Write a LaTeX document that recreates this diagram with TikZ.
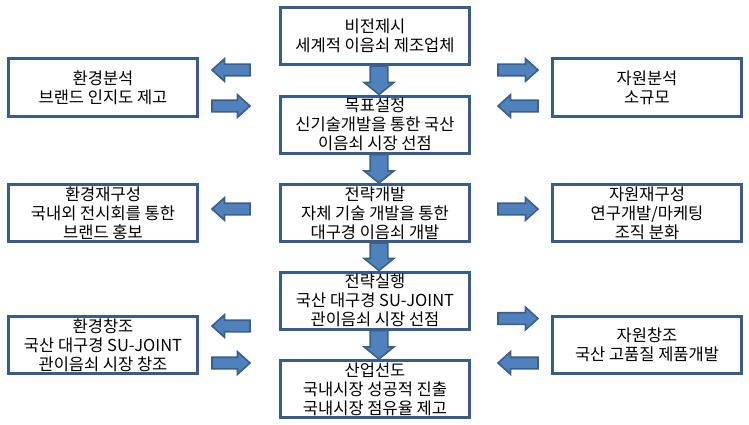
\documentclass[tikz,border=0pt]{standalone}
\usepackage{fontspec}
\usepackage{tikz}
\usetikzlibrary{calc}
\usepackage{xcolor}
\newfontfamily\krfont{Noto Sans CJK KR}
\definecolor{boxline}{HTML}{385D8A}
\definecolor{arrowfill}{HTML}{4F81BD}
\definecolor{arrowline}{HTML}{3A5F8E}

% block arrow: from, to, half shaft, half head, head length
\newcommand{\blockarrow}[5]{%
  \coordinate (ba-s) at (#1);
  \coordinate (ba-e) at (#2);
  \coordinate (ba-h) at ($(ba-e)!#5!(ba-s)$);
  \filldraw[fat] ($(ba-s)!#3!90:(ba-e)$) -- ($(ba-h)!#3!90:(ba-e)$)
    -- ($(ba-h)!#4!90:(ba-e)$) -- (ba-e) -- ($(ba-h)!#4!-90:(ba-e)$)
    -- ($(ba-h)!#3!-90:(ba-e)$) -- ($(ba-s)!#3!-90:(ba-e)$) -- cycle;}

\begin{document}
\begin{tikzpicture}[x=1pt,y=1pt,
            stage/.style = {draw=boxline,
            line width=3pt,
            fill=white,
            minimum width=189pt,
            minimum height=57pt,
            inner sep=0pt,
            align=center,
            font=\krfont\fontsize{16.5}{19}\selectfont},
            fat/.style = {fill=arrowfill,
            draw=arrowline,
            line width=1.6pt,
            line join=miter}]
        \useasboundingbox (0,0) rectangle (749,424);

        % Center column
        \node[stage] (vision) at (375,388) {비전제시\\세계적 이음쇠 제조업체};
        \node[stage] (goal) at (375,299.5) {목표설정\\신기술개발을 통한 국산\\이음쇠 시장 선점};
        \node[stage] (plan) at (375,211) {전략개발\\자체 기술 개발을 통한\\대구경 이음쇠 개발};
        \node[stage] (exec) at (375,123.5) {전략실행\\국산 대구경 SU-JOINT\\관이음쇠 시장 선점};
        \node[stage] (lead) at (375,35) {산업선도\\국내시장 성공적 진출\\국내시장 점유율 제고};

        % Environment
        \node[stage] (env1) at (103,336.5) {환경분석\\브랜드 인지도 제고};
        \node[stage] (env2) at (103,211) {환경재구성\\국내외 전시회를 통한\\브랜드 홍보};
        \node[stage] (env3) at (103,79) {환경창조\\국산 대구경 SU-JOINT\\관이음쇠 시장 창조};

        % Resources
        \node[stage] (res1) at (647,336.5) {자원분석\\소규모};
        \node[stage] (res2) at (647,211) {자원재구성\\연구개발/마케팅\\조직 분화};
        \node[stage] (res3) at (647,79) {자원창조\\국산 고품질 제품개발};

        % Down arrows
        \blockarrow{[xshift=4pt]vision.south}{[xshift=4pt]goal.north}{8.8pt}{14.8pt}{12pt}
        \blockarrow{[xshift=4pt]goal.south}{[xshift=4pt]plan.north}{8.8pt}{14.8pt}{12pt}
        \blockarrow{[xshift=4pt]plan.south}{[xshift=4pt]exec.north}{8.8pt}{14.8pt}{12pt}
        \blockarrow{[xshift=4pt]exec.south}{[xshift=4pt]lead.north}{8.8pt}{14.8pt}{12pt}

        % Left arrows
        \blockarrow{$(env1.east)+(51,17.5)$}{$(env1.east)+(13,17.5)$}{5.8pt}{11.3pt}{12.5pt}
        \blockarrow{$(env1.east)+(13,-18.5)$}{$(env1.east)+(51,-18.5)$}{5.8pt}{11.3pt}{12.5pt}
        \blockarrow{$(env2.east)+(51,4)$}{$(env2.east)+(13,4)$}{5.8pt}{11.3pt}{12.5pt}
        \blockarrow{$(env3.east)+(51,19)$}{$(env3.east)+(13,19)$}{5.8pt}{11.3pt}{12.5pt}
        \blockarrow{$(env3.east)+(13,-18)$}{$(env3.east)+(51,-18)$}{5.8pt}{11.3pt}{12.5pt}

        % Right arrows
        \blockarrow{$(res1.west)+(-53,17.5)$}{$(res1.west)+(-13,17.5)$}{5.8pt}{11.3pt}{12.5pt}
        \blockarrow{$(res1.west)+(-13,-18.5)$}{$(res1.west)+(-53,-18.5)$}{5.8pt}{11.3pt}{12.5pt}
        \blockarrow{$(res2.west)+(-53,4)$}{$(res2.west)+(-13,4)$}{5.8pt}{11.3pt}{12.5pt}
        \blockarrow{$(res3.west)+(-53,26.5)$}{$(res3.west)+(-13,26.5)$}{5.8pt}{11.3pt}{12.5pt}
        \blockarrow{$(res3.west)+(-13,-18)$}{$(res3.west)+(-53,-18)$}{5.8pt}{11.3pt}{12.5pt}
    \end{tikzpicture}
\end{document}
